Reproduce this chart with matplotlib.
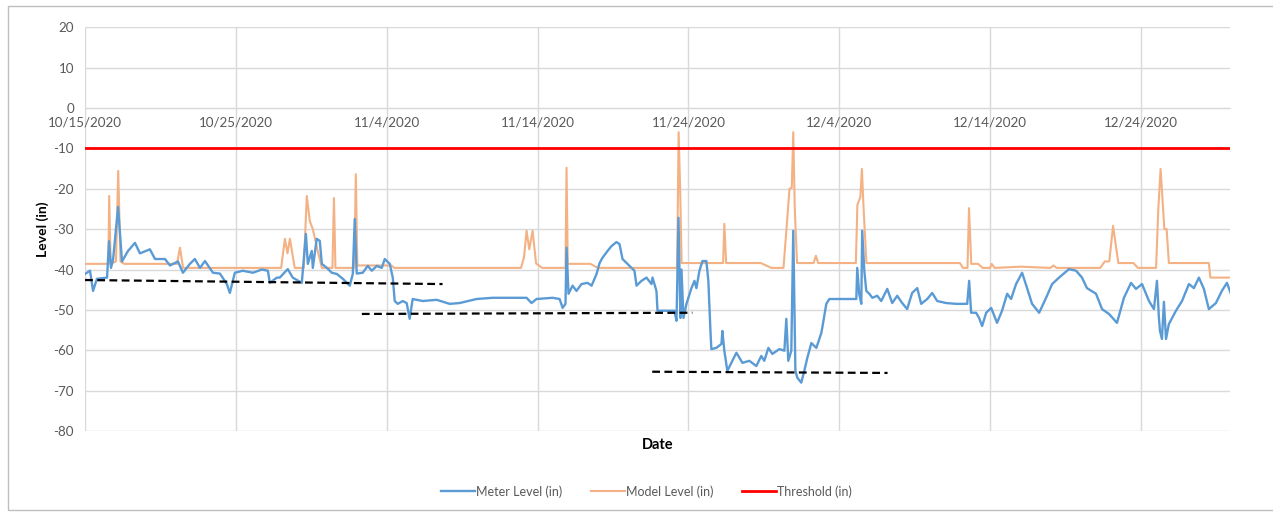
import pandas as pd
import matplotlib
matplotlib.use("Agg")
import matplotlib.pyplot as plt
from matplotlib.patches import Rectangle

plt.rcParams['font.family'] = ['Lato', 'DejaVu Sans']
plt.rcParams['axes.unicode_minus'] = False

start = pd.Timestamp('2020-10-15')

# meter level, (days since 10/15/2020, inches)
meter_day = [0.0, 0.33, 0.53, 0.79, 1.46, 1.59, 1.72, 1.86, 2.19, 2.45, 2.85, 3.31, 3.64, 4.3,
             4.64, 5.3, 5.63, 6.16, 6.49, 6.95, 7.28, 7.62, 7.95, 8.48, 8.94, 9.4, 9.6, 9.93,
             10.46, 11.13, 11.72, 12.12, 12.25, 12.72, 12.91, 13.44, 13.77, 14.37, 14.64, 14.77,
             15.03, 15.1, 15.36, 15.56, 15.7, 16.03, 16.36, 16.69, 17.09, 17.55, 17.75, 17.88,
             18.01, 18.41, 18.74, 19.01, 19.34, 19.67, 19.87, 20.2, 20.4, 20.53, 20.73, 21.06,
             21.32, 21.52, 21.72, 22.38, 23.31, 24.17, 24.83, 25.96, 27.02, 29.27, 29.6, 29.93,
             30.99, 31.46, 31.66, 31.85, 31.92, 32.05, 32.32, 32.58, 32.91, 33.31, 33.58, 33.91,
             34.11, 34.3, 34.64, 34.9, 35.23, 35.43, 35.63, 35.96, 36.42, 36.56, 36.89, 37.22,
             37.55, 37.62, 37.88, 37.95, 39.07, 39.21, 39.34, 39.47, 39.54, 39.67, 39.87, 40.2,
             40.4, 40.53, 40.73, 40.93, 41.19, 41.32, 41.46, 41.52, 41.85, 42.19, 42.25, 42.38,
             42.58, 42.91, 43.18, 43.58, 44.04, 44.5, 44.83, 45.03, 45.3, 45.56, 46.03, 46.36,
             46.49, 46.62, 46.82, 46.95, 47.09, 47.22, 47.48, 47.68, 47.88, 48.15, 48.48, 48.81,
             48.87, 49.14, 49.34, 50.66, 51.13, 51.19, 51.32, 51.46, 51.52, 51.66, 51.79, 51.99,
             52.19, 52.52, 52.78, 53.18, 53.51, 53.84, 54.17, 54.5, 54.83, 55.17, 55.43, 55.83,
             56.16, 56.49, 57.09, 57.75, 58.48, 58.61, 58.74, 59.07, 59.27, 59.47, 59.74, 60.07,
             60.46, 60.79, 61.13, 61.39, 61.72, 62.12, 62.45, 62.78, 63.25, 63.71, 64.11, 64.57,
             65.23, 65.7, 66.09, 66.42, 67.02, 67.42, 67.88, 68.41, 68.87, 69.34, 69.67, 70.07,
             70.53, 70.86, 71.06, 71.19, 71.26, 71.39, 71.52, 71.66, 71.85, 72.32, 72.72, 73.18,
             73.51, 73.84, 74.17, 74.5, 74.97, 75.36, 75.7, 75.96]
meter_level = [-41.1, -40.3, -45.3, -42.3, -42.0, -33.0, -39.6, -37.5, -24.5, -38.0, -35.4, -33.4,
               -36.0, -35.0, -37.4, -37.4, -39.0, -38.0, -40.8, -38.6, -37.4, -39.6, -37.9, -40.8,
               -41.0, -43.6, -45.8, -40.8, -40.3, -40.8, -40.0, -40.3, -43.3, -42.0, -42.0, -39.9,
               -42.0, -43.3, -31.2, -38.6, -35.4, -39.6, -32.4, -32.9, -38.6, -39.6, -40.8, -41.1,
               -42.3, -44.0, -41.1, -27.5, -41.0, -40.8, -39.1, -40.3, -39.1, -39.6, -37.4, -38.6,
               -42.0, -47.8, -48.5, -47.8, -48.3, -52.2, -47.3, -47.8, -47.5, -48.5, -48.3, -47.3,
               -47.0, -47.0, -48.3, -47.3, -47.0, -47.3, -49.5, -48.5, -34.6, -46.0, -44.0, -45.3,
               -43.6, -43.3, -44.0, -41.1, -38.4, -37.1, -35.4, -34.2, -33.2, -33.7, -37.4, -38.6,
               -40.3, -44.0, -42.8, -42.0, -43.6, -42.0, -45.3, -50.2, -50.2, -52.7, -27.2, -52.0,
               -40.0, -52.0, -48.5, -44.6, -42.8, -44.6, -40.3, -37.9, -37.9, -42.8, -55.2, -59.7,
               -59.4, -58.4, -55.2, -60.1, -65.1, -62.6, -60.6, -63.1, -62.6, -63.9, -61.4, -62.6,
               -59.4, -60.9, -59.7, -60.1, -52.2, -62.6, -60.1, -30.4, -65.1, -66.8, -68.0, -65.1,
               -61.9, -58.2, -59.4, -55.7, -54.5, -48.5, -47.3, -47.3, -47.3, -39.6, -46.0, -48.5,
               -30.4, -40.3, -45.3, -46.0, -47.0, -46.5, -47.8, -44.8, -48.3, -46.5, -48.3, -49.8,
               -45.8, -44.6, -48.5, -47.3, -45.8, -47.8, -48.3, -48.5, -48.5, -42.8, -50.7, -50.7,
               -52.0, -54.0, -50.7, -49.5, -53.2, -50.2, -46.0, -47.3, -43.6, -40.8, -44.6, -48.5,
               -50.7, -47.0, -43.6, -42.0, -39.9, -40.3, -42.0, -44.6, -46.0, -49.8, -51.0, -53.2,
               -47.0, -43.3, -44.8, -43.6, -47.8, -49.8, -42.8, -52.0, -55.2, -57.2, -48.0, -57.2,
               -53.5, -50.2, -47.8, -43.6, -44.6, -42.0, -44.8, -49.8, -48.3, -45.3, -43.3, -46.0]

# model level
model_day = [0.0, 1.55, 1.6, 1.7, 2.05, 2.2, 2.35, 2.6, 6.1, 6.29, 6.5, 13.0, 13.25, 13.42, 13.58,
             13.9, 14.5, 14.7, 14.9, 15.1, 15.4, 15.7, 16.4, 16.5, 16.6, 17.85, 17.95, 18.05, 20.3,
             20.5, 28.9, 29.1, 29.27, 29.45, 29.67, 29.9, 30.3, 31.85, 31.92, 32.0, 33.5, 34.0,
             39.25, 39.35, 39.45, 39.55, 42.3, 42.38, 42.5, 44.8, 45.5, 46.3, 46.5, 46.7, 46.85,
             46.95, 47.05, 47.2, 48.3, 48.45, 48.6, 51.1, 51.2, 51.4, 51.5, 51.6, 51.8, 58.0, 58.2,
             58.5, 58.6, 58.75, 59.2, 59.5, 60.0, 60.1, 60.3, 62.0, 64.0, 64.2, 64.4, 67.3, 67.6,
             67.9, 68.15, 68.5, 69.5, 69.8, 71.0, 71.15, 71.3, 71.45, 71.55, 71.7, 71.85, 74.5,
             74.6, 75.96]
model_level = [-38.6, -38.6, -21.8, -38.6, -38.0, -15.6, -38.0, -38.6, -38.6, -34.6, -39.6, -39.6,
               -32.4, -36.0, -32.4, -39.6, -39.6, -21.8, -28.0, -30.0, -35.0, -39.6, -39.6, -22.3,
               -39.6, -39.6, -16.4, -39.0, -39.0, -39.6, -39.6, -37.0, -30.4, -35.0, -30.4, -38.5,
               -39.6, -39.6, -14.8, -38.6, -38.6, -39.6, -39.6, -6.0, -20.0, -38.4, -38.4, -28.7,
               -38.4, -38.4, -39.6, -39.6, -30.0, -20.0, -19.8, -6.0, -25.0, -38.4, -38.4, -36.6,
               -38.4, -38.4, -24.0, -22.0, -15.1, -24.0, -38.4, -38.4, -39.6, -39.6, -24.8, -38.6,
               -38.6, -39.6, -39.6, -38.6, -39.6, -39.3, -39.6, -39.0, -39.6, -39.6, -38.0, -38.0,
               -29.2, -38.4, -38.4, -39.6, -39.6, -25.0, -15.1, -24.0, -30.0, -30.0, -38.4, -38.4,
               -42.0, -42.0]

threshold_day = [0.0, 75.96]
threshold_level = [-10, -10]

# hand drawn dashed reference lines (start/end)
ref_day = [[0.0, 23.7], [18.35, 40.26], [37.6, 53.2]]
ref_level = [[-42.6, -43.6], [-51.0, -50.7], [-65.3, -65.6]]

tick_dates = ['2020-10-15', '2020-10-25', '2020-11-04', '2020-11-14', '2020-11-24',
              '2020-12-04', '2020-12-14', '2020-12-24']
tick_labels = ['10/15/2020', '10/25/2020', '11/4/2020', '11/14/2020', '11/24/2020',
               '12/4/2020', '12/14/2020', '12/24/2020']


def to_dates(days):
    return start + pd.to_timedelta(days, unit='D')


fig = plt.figure(figsize=(12.73, 5.12), dpi=100)
ax = fig.add_axes([0.0668, 0.158, 0.8994, 0.789])

grid_c = '#d9d9d9'
ax.plot(to_dates(model_day), model_level, color='#f4b183', lw=1.5, label='Model Level (in)', zorder=3)
ax.plot(to_dates(meter_day), meter_level, color='#5b9bd5', lw=1.7, label='Meter Level (in)', zorder=4)
ax.plot(to_dates(threshold_day), threshold_level, color='#ff0000', lw=2.0, label='Threshold (in)', zorder=3)
for d, v in zip(ref_day, ref_level):
    ax.plot(to_dates(d), v, color='black', lw=1.6, ls=(0, (3.5, 2)), zorder=5)

ax.set_ylim(-80, 20)
ax.set_yticks(range(-80, 21, 10))
ax.set_xlim(start, to_dates(75.9))
ax.set_xticks(pd.to_datetime(tick_dates))
ax.set_xticklabels(tick_labels)
ax.grid(True, color=grid_c, lw=1)
ax.set_axisbelow(True)
for s in ['top', 'right', 'left']:
    ax.spines[s].set_visible(False)
ax.spines['bottom'].set_position(('data', 0))
ax.spines['bottom'].set_color(grid_c)
ax.tick_params(axis='both', length=0, labelsize=9.6, labelcolor='#595959')
ax.tick_params(axis='x', pad=6)
ax.tick_params(axis='y', pad=8)

ax.set_ylabel('Level (in)', fontsize=10, fontweight='bold', color='black', labelpad=3)
ax.text(0.5, -0.035, 'Date', transform=ax.transAxes, ha='center', va='center',
        fontsize=10.5, fontweight='bold')

h, l = ax.get_legend_handles_labels()
order = [1, 0, 2]
fig.legend([h[i] for i in order], [l[i] for i in order], loc='center', bbox_to_anchor=(0.508, 0.04),
           ncol=3, frameon=False, fontsize=9, labelcolor='#595959', handlelength=2.7,
           handletextpad=0.1, columnspacing=2.3)

fig.patches.append(Rectangle((0.006, 0.004), 1.2, 0.984, transform=fig.transFigure,
                             fill=False, edgecolor='#bfbfbf', lw=1))

fig.savefig('out.png', dpi=100)
